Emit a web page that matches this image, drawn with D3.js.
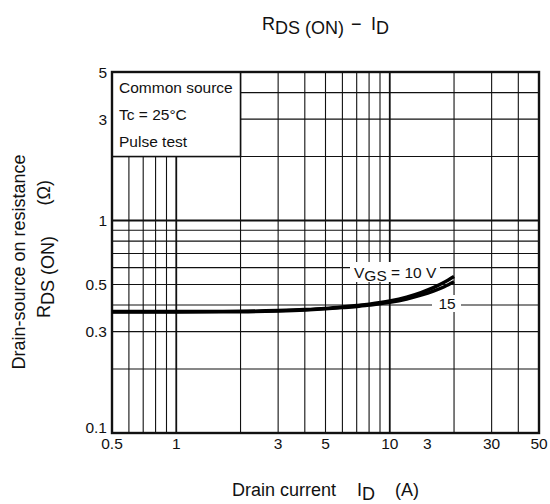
<!DOCTYPE html>
<html>
<head>
<meta charset="utf-8">
<script src="https://cdn.jsdelivr.net/npm/d3@7"></script>
<style>
  html, body { margin: 0; padding: 0; background: #fff; }
  svg { display: block; font-family: Arial, "Liberation Sans", Helvetica, sans-serif; }
</style>
</head>
<body>
<svg id="chart" width="550" height="504"></svg>
<script>
(function () {
  "use strict";

  // drain current (A) and on-resistance (ohm)
  const drainCurrent = [0.5, 1, 2, 3, 4, 5, 6, 7, 8, 10, 12, 14, 16, 18, 20];
  const rdsVgs10 = [0.373, 0.373, 0.374, 0.377, 0.381, 0.386, 0.392, 0.398, 0.404, 0.418, 0.436, 0.458, 0.483, 0.512, 0.545];
  const rdsVgs15 = [0.371, 0.371, 0.372, 0.375, 0.379, 0.384, 0.389, 0.394, 0.400, 0.412, 0.427, 0.445, 0.465, 0.488, 0.515];

  const xGrid = [0.5, 0.6, 0.7, 0.8, 0.9, 1, 2, 3, 4, 5, 6, 7, 8, 9, 10, 20, 30, 40, 50];
  const yGrid = [0.1, 0.2, 0.3, 0.4, 0.5, 0.6, 0.7, 0.8, 0.9, 1, 2, 3, 4, 5];
  const xTickVals = [0.5, 1, 3, 5, 10, 15, 30, 50];
  const xTickText = ["0.5", "1", "3", "5", "10", "3", "30", "50"];
  const yTickVals = [0.1, 0.3, 0.5, 1, 3, 5];
  const yTickText = ["0.1", "0.3", "0.5", "1", "3", "5"];
  const conditions = ["Common source", "Tc = 25°C", "Pulse test"];

  const svg = d3.select("#chart");
  const x = d3.scaleLog().domain([0.5, 50]).range([112, 539]);
  const y = d3.scaleLog().domain([0.1, 5]).range([433, 72]);

  const grid = svg.append("g").attr("stroke", "#111");
  grid.selectAll("line.vx")
    .data(xGrid)
    .enter()
    .append("line")
    .attr("x1", (d) => x(d)).attr("x2", (d) => x(d))
    .attr("y1", y(0.1)).attr("y2", y(5))
    .attr("stroke-width", (d) => (d === 1 || d === 10 ? 1.8 : 1.1));
  grid.selectAll("line.hy")
    .data(yGrid)
    .enter()
    .append("line")
    .attr("y1", (d) => y(d)).attr("y2", (d) => y(d))
    .attr("x1", x(0.5)).attr("x2", x(50))
    .attr("stroke-width", (d) => (d === 1 ? 1.8 : 1.1));

  // condition box in the upper-left corner
  svg.append("rect")
    .attr("x", x(0.5)).attr("y", y(5))
    .attr("width", x(2) - x(0.5)).attr("height", y(2) - y(5))
    .attr("fill", "#fff").attr("stroke", "#111").attr("stroke-width", 1.6);
  svg.append("g")
    .selectAll("text")
    .data(conditions)
    .enter()
    .append("text")
    .attr("x", 119)
    .attr("y", (d, i) => 93 + i * 27)
    .attr("font-size", 15.5)
    .attr("fill", "#111")
    .text((d) => d);

  // frame
  svg.append("rect")
    .attr("x", x(0.5)).attr("y", y(5))
    .attr("width", x(50) - x(0.5)).attr("height", y(0.1) - y(5))
    .attr("fill", "none").attr("stroke", "#111").attr("stroke-width", 2.4);

  // curves
  const line = d3.line()
    .x((d) => x(d[0]))
    .y((d) => y(d[1]))
    .curve(d3.curveMonotoneX);
  [rdsVgs10, rdsVgs15].forEach((series) => {
    svg.append("path")
      .datum(drainCurrent.map((v, i) => [v, series[i]]))
      .attr("fill", "none")
      .attr("stroke", "#000")
      .attr("stroke-width", 3.4)
      .attr("d", line);
  });

  // curve labels
  svg.append("rect").attr("x", 350).attr("y", 262).attr("width", 90).attr("height", 20).attr("fill", "#fff");
  const vgs = svg.append("text").attr("x", 354).attr("y", 278).attr("font-size", 15.5).attr("fill", "#111");
  vgs.append("tspan").text("V");
  vgs.append("tspan").attr("dy", 3).text("GS");
  vgs.append("tspan").attr("dy", -3).text(" = 10 V");

  svg.append("rect").attr("x", 432).attr("y", 295).attr("width", 29).attr("height", 17).attr("fill", "#fff");
  svg.append("text").attr("x", 447).attr("y", 309).attr("text-anchor", "middle")
    .attr("font-size", 15.5).attr("fill", "#111").text("15");

  // tick labels
  svg.append("g")
    .selectAll("text")
    .data(xTickVals)
    .enter()
    .append("text")
    .attr("x", (d) => x(d))
    .attr("y", 449)
    .attr("text-anchor", "middle")
    .attr("font-size", 15.5)
    .attr("fill", "#111")
    .text((d, i) => xTickText[i]);
  svg.append("g")
    .selectAll("text")
    .data(yTickVals)
    .enter()
    .append("text")
    .attr("x", 107)
    .attr("y", (d) => (d === 0.1 ? y(d) - 0.5 : y(d) + 5.5))
    .attr("text-anchor", "end")
    .attr("font-size", 15.5)
    .attr("fill", "#111")
    .text((d, i) => yTickText[i]);

  // title
  const title = svg.append("text").attr("x", 262).attr("y", 30).attr("font-size", 18).attr("fill", "#111");
  title.append("tspan").text("R");
  title.append("tspan").attr("dy", 4).text("DS (ON)");
  title.append("tspan").attr("dy", -4).attr("x", 351).text("\u2212");
  title.append("tspan").attr("x", 371).text("I");
  title.append("tspan").attr("dy", 4).text("D");

  // x axis label
  svg.append("text").attr("x", 232).attr("y", 496).attr("font-size", 18).attr("fill", "#111").text("Drain current");
  const idLab = svg.append("text").attr("x", 357).attr("y", 496).attr("font-size", 18).attr("fill", "#111");
  idLab.append("tspan").text("I");
  idLab.append("tspan").attr("dy", 4).text("D");
  svg.append("text").attr("x", 395).attr("y", 496).attr("font-size", 18).attr("fill", "#111").text("(A)");

  // y axis label
  svg.append("text")
    .attr("transform", "translate(25,262) rotate(-90)")
    .attr("text-anchor", "middle")
    .attr("font-size", 18).attr("fill", "#111")
    .text("Drain-source on resistance");
  const rLab = svg.append("text")
    .attr("transform", "translate(50,318) rotate(-90)")
    .attr("font-size", 18).attr("fill", "#111");
  rLab.append("tspan").text("R");
  rLab.append("tspan").attr("dy", 4).text("DS (ON)");
  svg.append("text")
    .attr("transform", "translate(50,180) rotate(-90)")
    .attr("text-anchor", "end")
    .attr("font-size", 18).attr("fill", "#111")
    .text("(\u03a9)");
})();
</script>
</body>
</html>
